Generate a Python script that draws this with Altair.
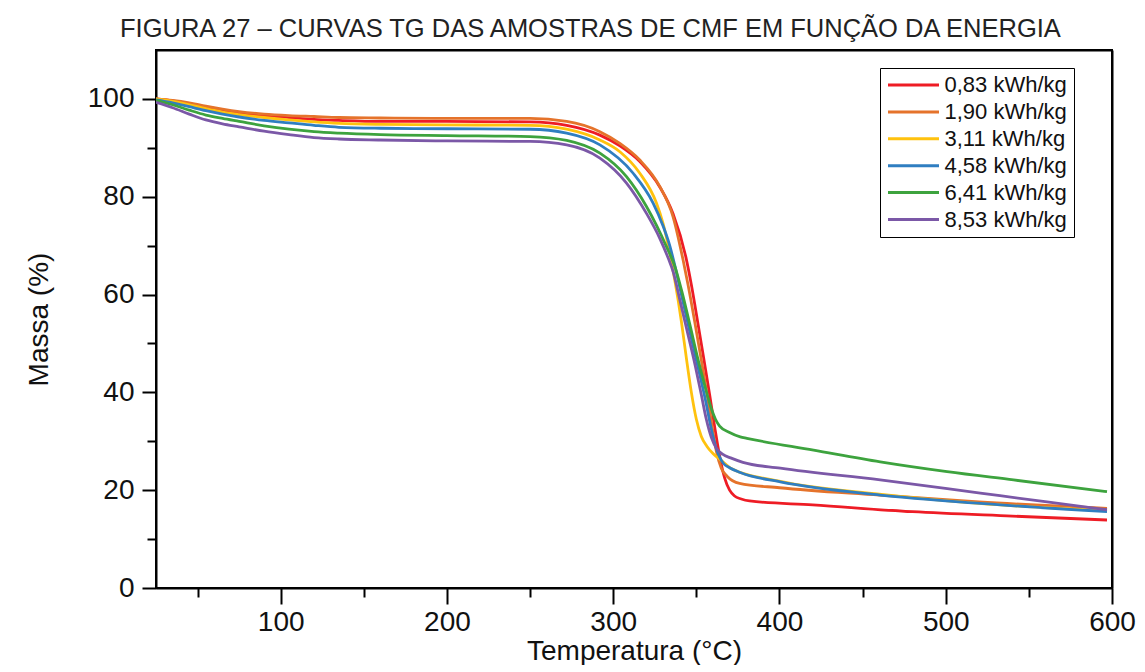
import altair as alt
import pandas as pd

series_names = ["0,83 kWh/kg", "1,90 kWh/kg", "3,11 kWh/kg", "4,58 kWh/kg", "6,41 kWh/kg", "8,53 kWh/kg"]
series_colors = ["#EE1C25", "#E5732B", "#FFC20E", "#2F7EC1", "#3DA33E", "#7B58A7"]

t_early = [25, 35, 45, 55, 65, 75, 90, 105, 120, 135, 160, 200, 250]

m_083_early = [100, 99.6, 99.0, 98.3, 97.7, 97.2, 96.6, 96.2, 95.8, 95.6, 95.4, 95.4, 95.3]
t_083_late = [272, 292, 304, 316, 328, 336, 343.8, 347, 351, 354.6, 358, 361, 364, 367, 370, 373, 377, 382, 420, 480, 540, 597]
m_083_late = [94.6, 92.6, 90.4, 87.2, 82.0, 76.5, 67.5, 62, 54, 46.6, 39.5, 33, 27, 22.5, 20, 18.8, 18.2, 17.8, 17.0, 15.6, 14.7, 13.9]

m_190_early = [100, 99.7, 99.2, 98.5, 97.9, 97.4, 96.9, 96.6, 96.4, 96.2, 96.1, 96.0, 96.0]
t_190_late = [272, 292, 304, 316, 328, 336, 342, 345, 349, 353, 356.5, 359.5, 362, 365, 368.6, 376, 400, 460, 520, 597]
m_190_late = [95.4, 93.3, 90.9, 87.5, 82.1, 75.9, 67.1, 62, 54.5, 46.6, 39.5, 33, 28, 24.5, 22.8, 21.4, 20.5, 19.0, 17.6, 16.3]

m_311_early = [100, 99.5, 98.8, 98.0, 97.3, 96.8, 96.2, 95.7, 95.3, 95.0, 94.8, 94.7, 94.6]
t_311_late = [272, 292, 304, 316, 326, 330, 334, 337, 341, 344, 347, 350, 353, 356.3, 360, 366, 370.6, 400.5, 460, 520, 597]
m_311_late = [93.8, 91.6, 89.2, 84.8, 78.7, 74.5, 68.5, 63, 54.5, 47, 40, 34.5, 31, 29, 27.5, 25.8, 24.5, 21.8, 19.2, 17.3, 15.8]

m_458_early = [99.8, 99.2, 98.4, 97.6, 96.9, 96.3, 95.6, 95.1, 94.6, 94.2, 94.0, 93.9, 93.8]
t_458_late = [272, 292, 312, 324, 330, 334, 337, 340, 345, 350, 355.5, 359, 362, 366.2, 370, 376.4, 400.5, 460.6, 520.8, 597]
m_458_late = [93.0, 90.6, 84.8, 78.7, 74, 70, 66, 61.5, 54, 46.6, 38.4, 32.5, 28.5, 25.5, 24.6, 23.6, 21.7, 19.0, 17.3, 15.6]

m_641_early = [99.7, 98.8, 97.7, 96.7, 96.0, 95.4, 94.5, 93.8, 93.3, 93.0, 92.7, 92.5, 92.3]
t_641_late = [272, 292, 308, 320, 332, 337.3, 341, 346, 351.1, 355, 358.7, 361.5, 364, 370, 376.4, 380.4, 420.5, 460.6, 500.8, 540.8, 597]
m_641_late = [91.5, 88.9, 84.1, 78.0, 69.8, 65.5, 61, 54, 46.6, 41.5, 37, 34.5, 33.1, 31.8, 30.9, 30.6, 28.2, 25.8, 23.8, 22.1, 19.7]

m_853_early = [99.3, 98.2, 96.9, 95.7, 94.9, 94.3, 93.4, 92.7, 92.1, 91.8, 91.6, 91.4, 91.3]
t_853_late = [272, 292, 308, 320, 328, 333, 336.2, 340, 344.5, 349.3, 353, 356, 359, 362, 366, 370.6, 378, 400.5, 460.6, 520.8, 560.9, 597]
m_853_late = [90.6, 87.9, 82.8, 76.6, 71.5, 67.5, 64.5, 59, 52.5, 45.5, 39.5, 34.5, 30.8, 28.6, 27.3, 26.6, 25.7, 24.5, 22.1, 19.4, 17.6, 16.0]

early_m = [m_083_early, m_190_early, m_311_early, m_458_early, m_641_early, m_853_early]
late_t = [t_083_late, t_190_late, t_311_late, t_458_late, t_641_late, t_853_late]
late_m = [m_083_late, m_190_late, m_311_late, m_458_late, m_641_late, m_853_late]

rows = []
for name, me, tl, ml in zip(series_names, early_m, late_t, late_m):
    ts = t_early + tl
    ms = me + ml
    for i, (t, m) in enumerate(zip(ts, ms)):
        rows.append({"serie": name, "T": t, "M": m, "i": i})
df = pd.DataFrame(rows)

FONT = "Liberation Sans"
AX = 28

x_scale = alt.Scale(domain=[25, 600], nice=False, zero=False)
y_scale = alt.Scale(domain=[0, 110], nice=False)

x_axis = alt.Axis(
    values=list(range(50, 601, 50)),
    title="Temperatura (°C)",
    labelExpr="datum.value % 100 === 0 ? datum.label : ''",
    tickSize={"condition": {"test": "datum.value % 100 === 0", "value": 16}, "value": 9},
    labelFontSize=AX, titleFontSize=AX, labelFont=FONT, titleFont=FONT,
    labelColor="#111", titleColor="#111", titleFontWeight="normal",
    labelPadding=4, titlePadding=1,
    domainColor="black", domainWidth=2, tickColor="black", tickWidth=2,
    grid=False, labelFlush=False,
)
y_axis = alt.Axis(
    values=list(range(0, 101, 10)),
    title="Massa (%)",
    labelExpr="datum.value % 20 === 0 ? datum.label : ''",
    tickSize={"condition": {"test": "datum.value % 20 === 0", "value": 14}, "value": 9},
    labelFontSize=AX, titleFontSize=AX, labelFont=FONT, titleFont=FONT,
    labelColor="#111", titleColor="#111", titleFontWeight="normal",
    labelPadding=8, titlePadding=34,
    domainColor="black", domainWidth=2, tickColor="black", tickWidth=2,
    grid=False, labelFlush=False,
)

lines = alt.Chart(df).mark_line(strokeWidth=2.8, interpolate="monotone", clip=True).encode(
    x=alt.X("T:Q", scale=x_scale, axis=x_axis),
    y=alt.Y("M:Q", scale=y_scale, axis=y_axis),
    color=alt.Color(
        "serie:N",
        scale=alt.Scale(domain=series_names, range=series_colors),
        legend=alt.Legend(
            title=None, orient="none", legendX=724, legendY=18,
            symbolType="stroke", symbolSize=2601, symbolStrokeWidth=3,
            labelFontSize=22, labelFont=FONT, labelColor="#111",
            clipHeight=21, rowPadding=3.9, padding=6.5, labelOffset=4,
            strokeColor="black", fillColor="white",
        ),
    ),
    order="i:Q",
)

frame = alt.Chart(df).mark_point(opacity=0).encode(
    x=alt.X("T:Q", scale=x_scale, axis=alt.Axis(
        orient="top", labels=False, ticks=False, title=None, grid=False,
        domainColor="black", domainWidth=2)),
    y=alt.Y("M:Q", scale=y_scale, axis=alt.Axis(
        orient="right", labels=False, ticks=False, title=None, grid=False,
        domainColor="black", domainWidth=2)),
)

chart = alt.layer(lines, frame).resolve_axis(
    x="independent", y="independent"
).properties(
    width=956,
    height=538,
    background="white",
    title=alt.Title(
        "FIGURA 27 – CURVAS TG DAS AMOSTRAS DE CMF EM FUNÇÃO DA ENERGIA",
        anchor="start", frame="group", dx=-36, offset=8, fontSize=25.5, font=FONT,
        fontWeight="normal", color="#222",
    ),
    padding={"left": 25, "top": 16, "right": 6, "bottom": 0},
).configure_view(stroke="black", strokeWidth=2)

chart.save("out.html", embed_options={"renderer": "svg", "actions": False})
